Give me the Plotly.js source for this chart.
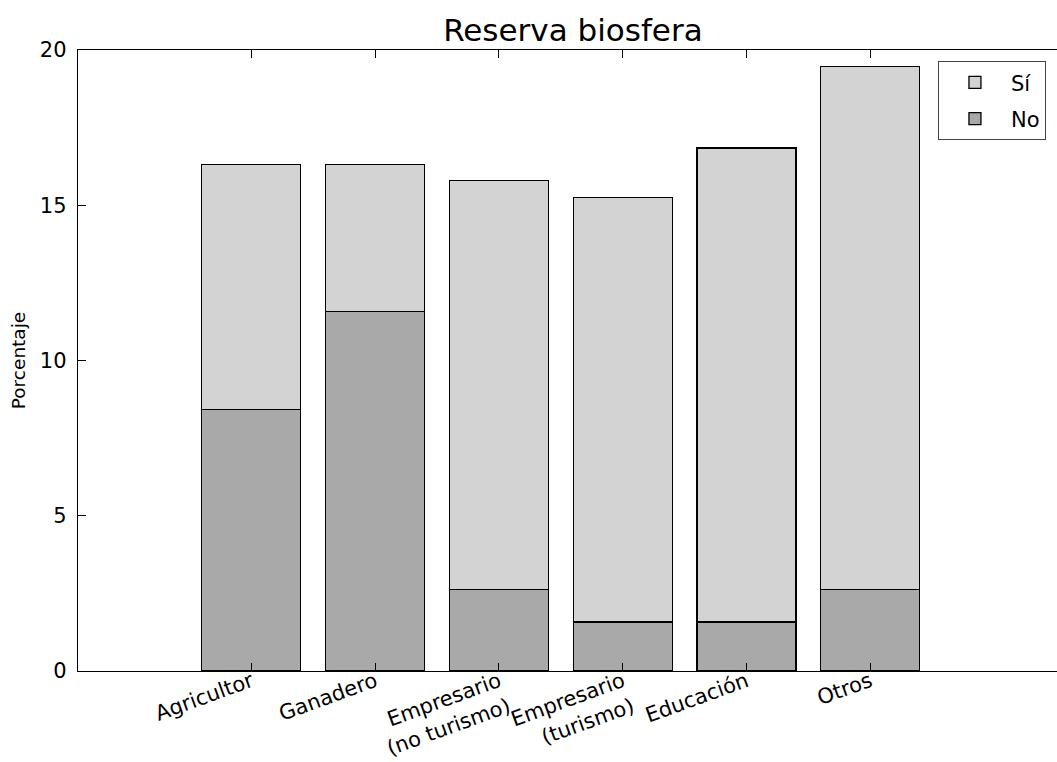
<!DOCTYPE html>
<html>
<head>
<meta charset="utf-8">
<script src="https://cdn.plot.ly/plotly-3.0.1.min.js"></script>
<style>html,body{margin:0;padding:0;background:#fff;}#chart{width:1057px;height:762px;}</style>
</head>
<body>
<div id="chart"></div>
<script>
// Data (percentages)
var categories = ["Agricultor", "Ganadero", "Empresario<br>(no turismo)", "Empresario<br>(turismo)", "Educación", "Otros"];
var noValues = [8.42, 11.58, 2.63, 1.58, 1.58, 2.63];
var siValues = [7.89, 4.74, 13.16, 13.68, 15.26, 16.84];
var seriesNames = ["No", "Sí"];
var yTicks = [0, 5, 10, 15, 20];

var FONT = "DejaVu Sans, sans-serif";
var traces = [
  {
    type: "bar", name: seriesNames[0], x: categories, y: noValues, width: 0.8,
    legendgroup: "no", legendrank: 2,
    marker: {color: "#a9a9a9", line: {color: "#000000", width: 1.3}},
    hoverinfo: "skip"
  },
  {
    type: "bar", name: seriesNames[1], x: categories, y: siValues, width: 0.8,
    legendgroup: "si", legendrank: 1,
    marker: {color: "#d3d3d3", line: {color: "#000000", width: 1.3}},
    hoverinfo: "skip"
  }
];

var layout = {
  width: 1057, height: 762,
  paper_bgcolor: "#ffffff", plot_bgcolor: "#ffffff",
  margin: {l: 78, r: 0, t: 50, b: 91},
  barmode: "stack",
  font: {family: FONT, color: "#000000"},
  title: {
    text: "Reserva biosfera",
    font: {family: FONT, size: 31, color: "#000000"},
    xref: "container", x: 0.542, xanchor: "center",
    yref: "container", y: 1 - 30 / 762, yanchor: "middle"
  },
  xaxis: {
    type: "category",
    range: [-1.4, 6.508],
    showgrid: false, zeroline: false,
    showline: true, linecolor: "#000000", linewidth: 1.3,
    mirror: "ticks",
    ticks: "inside", ticklen: 8, tickwidth: 1, tickcolor: "#000000",
    tickangle: -20,
    ticklabelstandoff: -11,
    tickfont: {family: FONT, size: 21, color: "#000000"},
    automargin: false
  },
  yaxis: {
    range: [0, 20],
    tickvals: yTicks,
    ticktext: yTicks.map(String),
    showgrid: false, zeroline: false,
    showline: true, linecolor: "#000000", linewidth: 1.3,
    ticks: "inside", ticklen: 8, tickwidth: 1, tickcolor: "#000000",
    ticklabelstandoff: 6,
    tickfont: {family: FONT, size: 21, color: "#000000"},
    title: {text: "Porcentaje", font: {family: FONT, size: 18.5, color: "#000000"}, standoff: 9},
    automargin: false
  },
  legend: {
    x: 0.8784, xanchor: "left",
    y: 0.982, yanchor: "top",
    traceorder: "grouped",
    tracegroupgap: 6,
    itemwidth: 62,
    bgcolor: "#ffffff",
    bordercolor: "#444444", borderwidth: 1,
    font: {family: FONT, size: 21, color: "#000000"}
  },
  showlegend: true
};

Plotly.newPlot("chart", traces, layout, {staticPlot: true, displayModeBar: false});
</script>
</body>
</html>
